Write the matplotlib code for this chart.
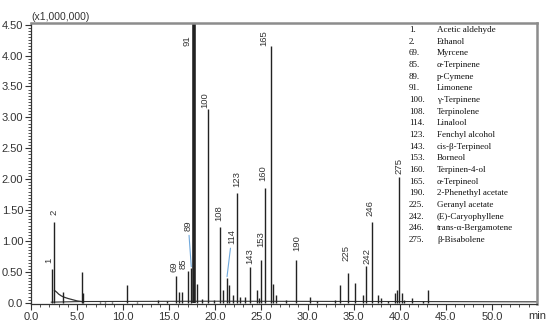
import matplotlib
matplotlib.use("Agg")
import matplotlib.pyplot as plt
import numpy as np

# peaks (retention time in min, intensity x1,000,000)
peak_times = [2.25, 2.53, 3.44, 5.53, 5.65, 7.5, 8.0, 8.8, 10.38, 11.5, 13.8, 14.8,
              15.7, 16.1, 16.4, 17.06, 17.4, 17.7, 17.97, 18.6, 19.2, 19.85, 20.5,
              20.8, 21.25, 21.5, 21.9, 22.3, 22.7, 23.2, 23.8, 24.5, 24.7, 25.0,
              25.4, 26.05, 26.3, 26.6, 27.7, 28.8, 30.3, 31.0, 33.0, 33.5, 34.35,
              35.1, 36.0, 36.4, 36.95, 37.6, 38.0, 38.75, 39.5, 39.7, 39.95, 40.2,
              40.5, 41.3, 42.5, 43.1]
peak_heights = [0.55, 1.30, 0.18, 0.50, 0.15, 0.02, 0.02, 0.02, 0.29, 0.015, 0.04, 0.03,
                0.44, 0.18, 0.17, 0.52, 0.56, 5.20, 0.30, 0.06, 3.13, 0.04, 1.23,
                0.20, 0.40, 0.29, 0.12, 1.77, 0.10, 0.10, 0.58, 0.20, 0.08, 0.70,
                1.85, 4.15, 0.30, 0.12, 0.05, 0.70, 0.10, 0.03, 0.04, 0.28, 0.48,
                0.32, 0.13, 0.60, 1.30, 0.12, 0.08, 0.03, 0.15, 0.20, 2.03, 0.15,
                0.05, 0.08, 0.03, 0.20]

# solvent tail after ethanol and the baseline
tail_t = [2.55, 2.8, 3.0, 3.3, 3.6, 4.0, 4.5, 5.0, 5.5]
tail_v = [0.20, 0.17, 0.14, 0.11, 0.09, 0.07, 0.05, 0.03, 0.02]
base_t = [2.2, 5.5, 20.0, 40.0, 54.9]
base_v = [0.01, 0.02, 0.025, 0.02, 0.015]

label_names = ["1", "2", "69", "85", "89", "91", "100", "108", "114", "123", "143",
               "153", "160", "165", "190", "225", "242", "246", "275"]
label_times = [2.25, 2.53, 15.7, 17.06, 17.4, 17.7, 19.2, 20.5, 21.25, 22.3, 23.8,
               25.0, 25.4, 26.05, 28.8, 34.35, 36.4, 36.95, 39.95]

compounds = ["Acetic aldehyde", "Ethanol", "Myrcene", "α-Terpinene", "p-Cymene",
             "Limonene", "γ-Terpinene", "Terpinolene", "Linalool", "Fenchyl alcohol",
             "cis-β-Terpineol", "Borneol", "Terpinen-4-ol", "α-Terpineol",
             "2-Phenethyl acetate", "Geranyl acetate", "(E)-Caryophyllene",
             "trans-α-Bergamotene", "β-Bisabolene"]

# label offsets in pixels: (dx, gap above peak top)
label_offsets = {"1": (-3, 6), "2": (0, 7), "69": (-2, 4), "85": (-5, 2), "89": (-3, 37),
                 "91": (-7, 0), "100": (-3, 1), "108": (-1, 6), "114": (5, 34),
                 "123": (0, 6), "143": (-1, 3), "153": (-1, 13), "160": (-2, 7),
                 "165": (-7, 0), "190": (0, 9), "225": (-2, 12), "242": (0, 2),
                 "246": (-2, 6), "275": (0, 3)}
leaders = ["89", "114"]

fig = plt.figure(figsize=(5.5, 3.27), dpi=100)
ax = fig.add_axes([31 / 550, 23 / 327, 506 / 550, 281.5 / 327])

ax.plot(base_t, base_v, color="#333333", lw=0.8)
ax.plot(tail_t, tail_v, color="#333333", lw=0.9)
widths = [2.6 if h > 4.5 else 1.0 for h in peak_heights]
ax.vlines(peak_times, 0, peak_heights, colors="#222222", linewidths=widths)

for name, t in zip(label_names, label_times):
    h = peak_heights[peak_times.index(t)]
    dx, gap = label_offsets[name]
    y = min(h, 4.15)
    if name in leaders:
        ax.annotate(name, xy=(t, h), xytext=(dx, gap), textcoords="offset pixels",
                    rotation=90, ha="center", va="bottom", fontsize=6.8,
                    family="Liberation Sans", color="#333333",
                    arrowprops=dict(arrowstyle="-", color="#6fa8dc", lw=0.8,
                                    shrinkA=1, shrinkB=1))
    else:
        ax.annotate(name, xy=(t, y), xytext=(dx, gap), textcoords="offset pixels",
                    rotation=90, ha="center", va="bottom", fontsize=6.8,
                    family="Liberation Sans", color="#333333")

ax.set_xlim(0, 54.9)
ax.set_ylim(-0.02, 4.535)
ax.set_xticks(np.arange(0, 51, 5))
ax.set_xticklabels(["%.1f" % v for v in np.arange(0, 51, 5)])
ax.set_xticks(np.arange(0, 55, 1), minor=True)
yt = np.arange(0, 4.51, 0.5)
ax.set_yticks(yt)
ax.set_yticklabels(["0.0"] + ["%.2f" % v for v in yt[1:]])
ax.set_yticks(np.arange(0, 4.53, 0.05), minor=True)

for lab in ax.get_xticklabels() + ax.get_yticklabels():
    lab.set_family("Liberation Sans")
    lab.set_fontsize(8)
    lab.set_color("#333333")
ax.tick_params(axis="both", which="major", direction="out", length=4, width=0.8,
               color="#333333", pad=1.5)
ax.tick_params(axis="both", which="minor", direction="out", length=2, width=0.6,
               color="#333333")

for s in ["left", "bottom"]:
    ax.spines[s].set_color("#333333")
    ax.spines[s].set_linewidth(0.9)
for s in ["top", "right"]:
    ax.spines[s].set_color("#8c8c8c")
    ax.spines[s].set_linewidth(1.8)

fig.text(31 / 550, 1 - 16.5 / 327, "(x1,000,000)", ha="left", va="center",
         fontsize=7.5, family="Liberation Sans", color="#333333")
fig.text(537 / 550, 1 - 316 / 327, "min", ha="center", va="center",
         fontsize=8, family="Liberation Sans", color="#333333")

for i, (n, c) in enumerate(zip(label_names, compounds)):
    y = 1 - (30 + i * 11.67) / 327
    fig.text(409 / 550, y, n + ".", ha="left", va="center", fontsize=6.5,
             family="Liberation Serif", color="#111111")
    fig.text(437 / 550, y, c, ha="left", va="center", fontsize=6.5,
             family="Liberation Serif", color="#111111")

fig.savefig("out.png", dpi=100)
